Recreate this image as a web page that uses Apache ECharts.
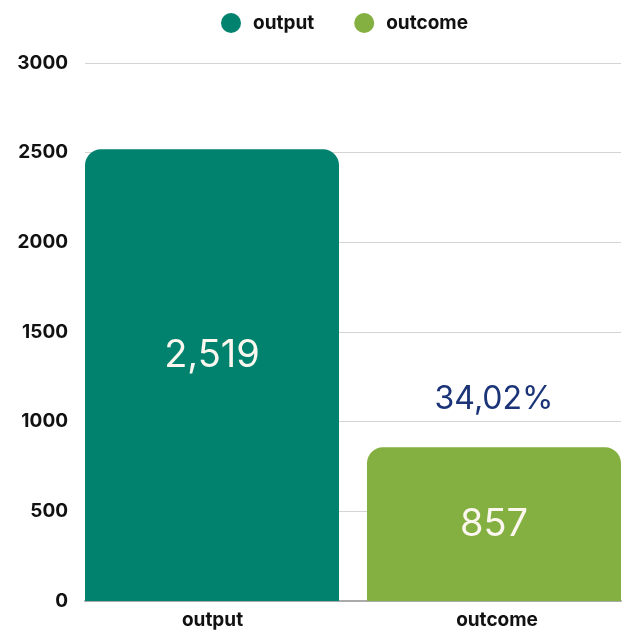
<!DOCTYPE html>
<html><head><meta charset="utf-8">
<script src="https://cdn.jsdelivr.net/npm/echarts@6/dist/echarts.min.js"></script>
<style>html,body{margin:0;padding:0;background:#fff}#c{width:626px;height:630px}</style>
</head><body><div id="c"></div>
<script>
const categories = ['output', 'outcome'];
const outputValues = [2519, null];
const outcomeValues = [null, 857];
const ratioLabel = '34,02%';
const yTicks = [0, 500, 1000, 1500, 2000, 2500, 3000];

const FONT = 'Inter';
const chart = echarts.init(document.getElementById('c'), null, {renderer: 'canvas'});
chart.setOption({
  animation: false,
  textStyle: {fontFamily: FONT},
  legend: {
    top: 8, left: 216, icon: 'circle', itemWidth: 20, itemHeight: 20, itemGap: 40,
    textStyle: {fontFamily: FONT, fontWeight: 'bold', fontSize: 19, color: '#111', padding: [0, 0, 0, 7]},
    data: ['output', 'outcome']
  },
  grid: {left: 85, right: 5, top: 63, bottom: 29},
  xAxis: {
    type: 'category', data: categories,
    axisTick: {show: false},
    axisLine: {lineStyle: {color: '#aaa', width: 2}},
    axisLabel: {
      margin: 10, fontFamily: FONT, fontWeight: 'bold', fontSize: 19, color: '#111',
      formatter: function (v) { return v === 'output' ? '{a|' + v + '}' : '{b|' + v + '}'; },
      rich: {
        a: {fontFamily: FONT, fontWeight: 'bold', fontSize: 19, color: '#111', padding: [0, 13, 0, 0]},
        b: {fontFamily: FONT, fontWeight: 'bold', fontSize: 19, color: '#111', padding: [0, 0, 0, 20]}
      }
    }
  },
  yAxis: {
    type: 'value', min: yTicks[0], max: yTicks[yTicks.length - 1], interval: 500,
    axisLine: {show: false}, axisTick: {show: false},
    splitLine: {lineStyle: {color: '#d4d4d4', width: 1}},
    axisLabel: {margin: 17, fontFamily: FONT, fontWeight: 'bold', fontSize: 19, color: '#111',
      formatter: function (v) { return String(v); }}
  },
  series: [
    {
      name: 'output', type: 'bar', data: outputValues, barWidth: 254, barGap: '-94.5%',
      itemStyle: {color: '#00826F', borderRadius: [16, 16, 0, 0]},
      label: {
        show: true, position: 'inside', offset: [0, -20], color: '#FBF6EE',
        fontFamily: FONT, fontSize: 38, fontWeight: 'normal',
        formatter: function (p) { return p.value == null ? '' : p.value.toLocaleString('en-US'); }
      }
    },
    {
      name: 'outcome', type: 'bar', data: outcomeValues, barWidth: 254,
      itemStyle: {color: '#84AF41', borderRadius: [16, 16, 0, 0]},
      label: {
        show: true, position: 'inside', color: '#FBF6EE',
        fontFamily: FONT, fontSize: 38, fontWeight: 'normal',
        formatter: function (p) { return p.value == null ? '' : p.value.toLocaleString('en-US'); }
      },
      markPoint: {
        symbol: 'circle', symbolSize: 0,
        data: [{coord: [categories[1], outcomeValues[1]], value: ratioLabel}],
        label: {show: true, position: 'top', offset: [0, -27], formatter: ratioLabel, color: '#1B3477', fontFamily: FONT, fontSize: 32, fontWeight: 'normal'}
      }
    }
  ]
});
</script></body></html>
